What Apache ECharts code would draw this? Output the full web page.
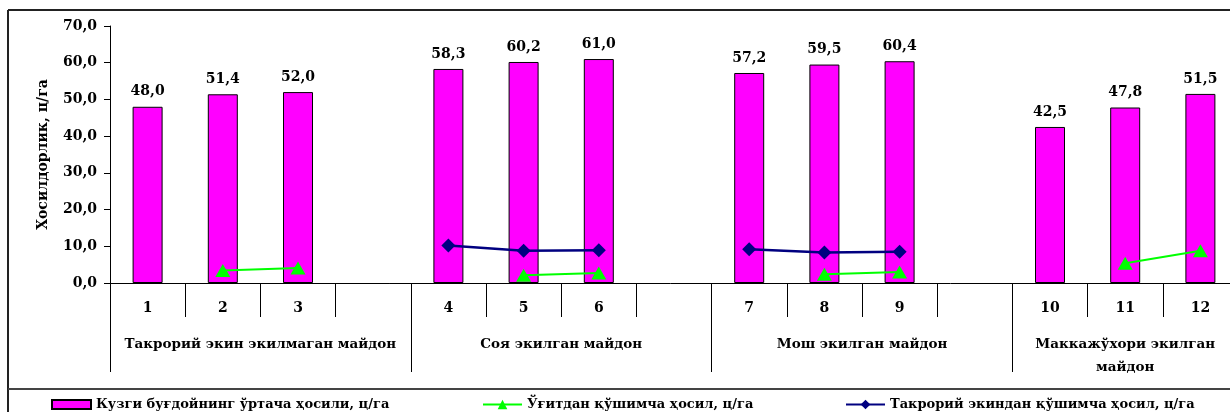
<!DOCTYPE html>
<html>
<head>
<meta charset="utf-8">
<script src="https://cdn.jsdelivr.net/npm/echarts@6/dist/echarts.min.js"></script>
<style>
  html, body { margin: 0; padding: 0; background: #fff; }
  #chart { width: 1230px; height: 412px; }
</style>
</head>
<body>
<div id="chart"></div>
<script>
// Plot slots: three variants per field, with an empty slot between fields
const categories = ['1', '2', '3', '', '4', '5', '6', '', '7', '8', '9', '', '10', '11', '12'];

// Average winter wheat yield, c/ha
const yieldValues = [48.0, 51.4, 52.0, null, 58.3, 60.2, 61.0, null, 57.2, 59.5, 60.4, null, 42.5, 47.8, 51.5];
// Extra yield from fertiliser, c/ha
const fertilizerGain = [null, 3.4, 4.1, null, null, 2.1, 2.7, null, null, 2.4, 3.0, null, null, 5.4, 8.8];
// Extra yield from the repeat crop, c/ha
const secondCropGain = [null, null, null, null, 10.2, 8.8, 8.9, null, 9.2, 8.3, 8.5, null, null, null, null];

// Field groups along the lower axis (positions in slot units)
const groupNames = ['Такрорий экин экилмаган майдон', 'Соя экилган майдон', 'Мош экилган майдон', 'Маккажўхори экилган\nмайдон'];
const groupBounds = [0, 4, 8, 12];
const groupCenters = [2, 6, 10, 13.5];

const seriesNames = ['Кузги буғдойнинг ўртача ҳосили, ц/га', 'Ўғитдан қўшимча ҳосил, ц/га', 'Такрорий экиндан қўшимча ҳосил, ц/га'];
const yAxisName = 'Хосилдорлик, ц/га';

const FONT = 'DejaVu Serif';
const txt = { fontFamily: FONT, fontWeight: 'bold', fontSize: 14, color: '#000' };
const comma = v => v.toFixed(1).replace('.', ',');

const chart = echarts.init(document.getElementById('chart'), null, { renderer: 'canvas' });

const legendBase = {
  orient: 'horizontal', top: 393, itemWidth: 39, itemHeight: 12, itemGap: 0,
  textStyle: Object.assign({}, txt, { fontSize: 13 }), selectedMode: false
};

chart.setOption({
  backgroundColor: '#fff',
  animation: false,
  grid: { left: 110, top: 26, width: 1128, height: 257, containLabel: false, outerBoundsMode: 'none' },
  legend: [
    Object.assign({}, legendBase, { left: 46, itemHeight: 9, data: [{ name: seriesNames[0], icon: 'rect' }] }),
    Object.assign({}, legendBase, { left: 477, data: [seriesNames[1]] }),
    Object.assign({}, legendBase, { left: 840, data: [seriesNames[2]] })
  ],
  xAxis: [
    {
      type: 'category', data: categories, boundaryGap: true, position: 'bottom',
      axisLine: { show: true, lineStyle: { color: '#000', width: 1 } },
      axisTick: { show: true, interval: 0, length: 34, lineStyle: { color: '#000', width: 1 } },
      axisLabel: Object.assign({ interval: 0, margin: 18 }, txt),
      splitLine: { show: false }
    },
    {
      type: 'value', min: 0, max: 15, position: 'bottom',
      axisLine: { show: false },
      axisTick: { show: true, customValues: groupBounds, length: 89, lineStyle: { color: '#000', width: 1 } },
      axisLabel: Object.assign({
        customValues: groupCenters, margin: 50, lineHeight: 23,
        formatter: v => groupNames[groupCenters.indexOf(v)] || ''
      }, txt, { fontSize: 13.5 }),
      splitLine: { show: false }
    }
  ],
  yAxis: {
    type: 'value', min: 0, max: 70, interval: 10,
    name: yAxisName, nameLocation: 'middle', nameGap: 60, nameRotate: 90,
    nameTextStyle: Object.assign({}, txt),
    axisLine: { show: true, lineStyle: { color: '#000', width: 1 } },
    axisTick: { show: true, length: 6, lineStyle: { color: '#000', width: 1 } },
    axisLabel: Object.assign({ margin: 13, formatter: comma }, txt),
    splitLine: { show: false }
  },
  series: [
    {
      name: seriesNames[0], type: 'bar', xAxisIndex: 0, data: yieldValues, barWidth: 30,
      itemStyle: { color: '#FF00FF', borderColor: '#000', borderWidth: 1 },
      label: Object.assign({ show: true, position: 'top', distance: 8, formatter: p => comma(p.value) }, txt)
    },
    {
      name: seriesNames[1], type: 'line', xAxisIndex: 0, data: fertilizerGain, connectNulls: false,
      symbol: 'triangle', symbolSize: [15, 13],
      lineStyle: { color: '#00FF00', width: 2 },
      itemStyle: { color: '#00FF00' }
    },
    {
      name: seriesNames[2], type: 'line', xAxisIndex: 0, data: secondCropGain, connectNulls: false,
      symbol: 'diamond', symbolSize: [14, 14],
      lineStyle: { color: '#000080', width: 2.5 },
      itemStyle: { color: '#000080' }
    }
  ],
  graphic: [
    { type: 'line', z: 100, shape: { x1: 8, y1: 10, x2: 1240, y2: 10 }, style: { stroke: '#222', lineWidth: 2 } },
    { type: 'line', z: 100, shape: { x1: 8, y1: 10, x2: 8, y2: 420 }, style: { stroke: '#222', lineWidth: 2 } },
    { type: 'line', z: 100, shape: { x1: 8, y1: 389, x2: 1240, y2: 389 }, style: { stroke: '#444', lineWidth: 2 } }
  ]
});
</script>
</body>
</html>
